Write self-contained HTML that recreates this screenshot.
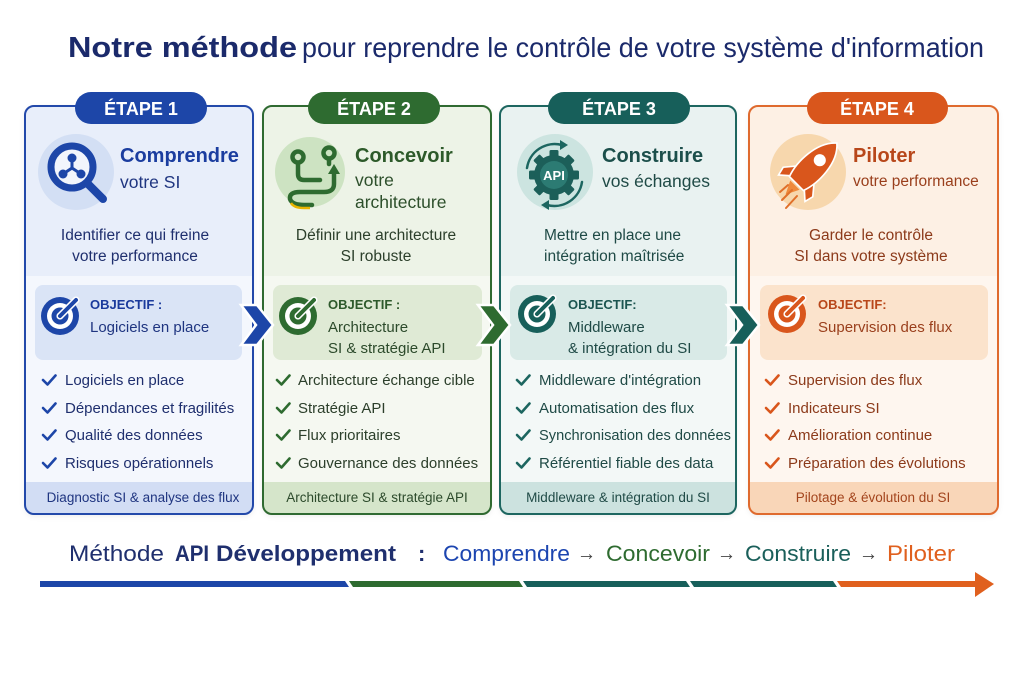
<!DOCTYPE html>
<html><head><meta charset="utf-8"><style>
html,body{margin:0;padding:0;background:#fff;}
svg{display:block;font-family:"Liberation Sans",Arial,sans-serif;}
</style></head><body>
<svg width="1024" height="683" viewBox="0 0 1024 683" xmlns="http://www.w3.org/2000/svg">
<defs>
<clipPath id="k1"><rect x="25" y="106" width="228" height="408" rx="9"/></clipPath>
<clipPath id="k2"><rect x="263" y="106" width="228" height="408" rx="9"/></clipPath>
<clipPath id="k3"><rect x="500" y="106" width="236" height="408" rx="9"/></clipPath>
<clipPath id="k4"><rect x="749" y="106" width="249" height="408" rx="9"/></clipPath>
<filter id="sh" x="-10%" y="-10%" width="120%" height="120%"><feDropShadow dx="0" dy="2" stdDeviation="3" flood-color="#000" flood-opacity="0.08"/></filter>
</defs>

<!-- Title -->
<text x="68" y="57" font-size="29" font-weight="bold" fill="#1b2a6b" textLength="229" lengthAdjust="spacingAndGlyphs">Notre méthode</text>
<text x="302" y="57" font-size="28" fill="#1b2a6b" textLength="682" lengthAdjust="spacingAndGlyphs">pour reprendre le contrôle de votre système d'information</text>

<!-- CARD 1 -->
<rect x="25" y="106" width="228" height="408" rx="9" fill="#f4f7fd" filter="url(#sh)"/>
<g clip-path="url(#k1)">
<rect x="25" y="106" width="228" height="170" fill="#e8eefa"/>
<rect x="25" y="482" width="228" height="32" fill="#d2ddf4"/>
</g>
<rect x="25" y="106" width="228" height="408" rx="9" fill="none" stroke="#2349aa" stroke-width="2"/>
<rect x="35" y="285" width="207" height="75" rx="8" fill="#dae4f6"/>

<!-- CARD 2 -->
<rect x="263" y="106" width="228" height="408" rx="9" fill="#f5f8f1" filter="url(#sh)"/>
<g clip-path="url(#k2)">
<rect x="263" y="106" width="228" height="170" fill="#edf3e7"/>
<rect x="263" y="482" width="228" height="32" fill="#d5e5ca"/>
</g>
<rect x="263" y="106" width="228" height="408" rx="9" fill="none" stroke="#2f6a31" stroke-width="2"/>
<rect x="273" y="285" width="209" height="75" rx="8" fill="#dfead5"/>

<!-- CARD 3 -->
<rect x="500" y="106" width="236" height="408" rx="9" fill="#f3f8f7" filter="url(#sh)"/>
<g clip-path="url(#k3)">
<rect x="500" y="106" width="236" height="170" fill="#e9f2f1"/>
<rect x="500" y="482" width="236" height="32" fill="#cce2df"/>
</g>
<rect x="500" y="106" width="236" height="408" rx="9" fill="none" stroke="#1d6660" stroke-width="2"/>
<rect x="510" y="285" width="217" height="75" rx="8" fill="#d9eae7"/>

<!-- CARD 4 -->
<rect x="749" y="106" width="249" height="408" rx="9" fill="#fef6ef" filter="url(#sh)"/>
<g clip-path="url(#k4)">
<rect x="749" y="106" width="249" height="170" fill="#fdf0e4"/>
<rect x="749" y="482" width="249" height="32" fill="#f9d6b8"/>
</g>
<rect x="749" y="106" width="249" height="408" rx="9" fill="none" stroke="#df6a2e" stroke-width="2"/>
<rect x="760" y="285" width="228" height="75" rx="8" fill="#fbe3cc"/>

<!-- Badges -->
<rect x="75" y="92" width="132" height="32" rx="16" fill="#1d46a8"/>
<text x="141" y="115" font-size="18" font-weight="bold" fill="#fff" text-anchor="middle">ÉTAPE 1</text>
<rect x="308" y="92" width="132" height="32" rx="16" fill="#2e6b30"/>
<text x="374" y="115" font-size="18" font-weight="bold" fill="#fff" text-anchor="middle">ÉTAPE 2</text>
<rect x="548" y="92" width="142" height="32" rx="16" fill="#175f5a"/>
<text x="619" y="115" font-size="18" font-weight="bold" fill="#fff" text-anchor="middle">ÉTAPE 3</text>
<rect x="807" y="92" width="141" height="32" rx="16" fill="#d9561c"/>
<text x="877" y="115" font-size="18" font-weight="bold" fill="#fff" text-anchor="middle">ÉTAPE 4</text>

<!-- Icon 1: magnifier -->
<circle cx="76" cy="172" r="38" fill="#d3dff4"/>
<circle cx="72" cy="167" r="21" fill="#f2f5fc" stroke="#1d46a8" stroke-width="7"/>
<g stroke="#1d46a8" stroke-width="3">
<line x1="72" y1="168" x2="72" y2="159"/><line x1="72" y1="168" x2="63" y2="174"/><line x1="72" y1="168" x2="81" y2="174"/>
</g>
<circle cx="72" cy="158" r="4.5" fill="#1d46a8"/><circle cx="63" cy="174" r="4.5" fill="#1d46a8"/><circle cx="81" cy="174" r="4.5" fill="#1d46a8"/>
<line x1="88" y1="184" x2="103" y2="199" stroke="#1d46a8" stroke-width="8" stroke-linecap="round"/>

<!-- Icon 2: route -->
<circle cx="310" cy="172" r="35" fill="#cde3c2"/>
<g fill="none" stroke="#2e6b30" stroke-width="4.5" stroke-linecap="round" stroke-linejoin="round">
<circle cx="298" cy="157" r="5.5"/>
<circle cx="329" cy="153" r="5.5"/>
<line x1="329" y1="159" x2="329" y2="164"/>
<path d="M298,163 V174 Q298,180 304,180 H320"/>
<path d="M334,172 V184 Q334,192 324,192 H300 Q289,192 290,199 Q292,205 304,205 H312"/>
</g>
<path d="M334,164 L340,174 L328,174 Z" fill="#2e6b30"/>
<path d="M291,203 Q294,208 304,208 H310" fill="none" stroke="#e8b400" stroke-width="2.5"/>

<!-- Icon 3: gear API -->
<circle cx="555" cy="172" r="38" fill="#cce4e0"/>
<g transform="translate(554,175)" fill="#1c5f59">
<rect x="-4.5" y="-25" width="9" height="50" rx="1.5"/>
<rect x="-4.5" y="-25" width="9" height="50" rx="1.5" transform="rotate(45)"/>
<rect x="-4.5" y="-25" width="9" height="50" rx="1.5" transform="rotate(90)"/>
<rect x="-4.5" y="-25" width="9" height="50" rx="1.5" transform="rotate(135)"/>
<circle r="20"/>
<circle r="14" fill="#2c7b73"/>
</g>
<text x="554" y="180" font-size="13" font-weight="bold" fill="#fff" text-anchor="middle">API</text>
<g fill="none" stroke="#1c6660" stroke-width="2.5" stroke-linecap="round">
<path d="M527,168 A28,28 0 0 1 562,145"/>
<path d="M582,182 A28,28 0 0 1 547,205"/>
</g>
<path d="M560,140 L568,145 L560,150 Z" fill="#1c6660"/>
<path d="M549,200 L541,205 L549,210 Z" fill="#1c6660"/>

<!-- Icon 4: rocket -->
<circle cx="808" cy="172" r="38" fill="#f7d7ad"/>
<g transform="translate(812,168) rotate(45) scale(1.1)">
<path d="M-9,6 L-19,18 L-17,26 L-8,18 Z" fill="#d9561c" stroke="#fff" stroke-width="1.5"/>
<path d="M9,6 L19,18 L17,26 L8,18 Z" fill="#d9561c" stroke="#fff" stroke-width="1.5"/>
<path d="M0,-32 C14,-20 14,6 9,20 H-9 C-14,6 -14,-20 0,-32 Z" fill="#d9561c" stroke="#fff" stroke-width="1.5"/>
<circle cx="0" cy="-10" r="5.5" fill="#fff"/>
<path d="M-6,22 L0,34 L6,22 Z" fill="#ef8a3c"/>
</g>
<g stroke="#e0702a" stroke-width="2" stroke-linecap="round">
<line x1="792" y1="190" x2="782" y2="200"/>
<line x1="797" y1="196" x2="786" y2="208"/>
<line x1="788" y1="185" x2="780" y2="192"/>
</g>

<!-- Headings -->
<text x="120" y="162" font-size="20" font-weight="bold" fill="#1b3d9f">Comprendre</text>
<text x="120" y="188" font-size="17.5" fill="#1f3580">votre SI</text>
<text x="355" y="162" font-size="20" font-weight="bold" fill="#2d5a2a">Concevoir</text>
<text x="355" y="186" font-size="17.5" fill="#2d4f2b">votre</text>
<text x="355" y="208" font-size="17.5" fill="#2d4f2b">architecture</text>
<text x="602" y="162" font-size="20" font-weight="bold" fill="#1c4f4b">Construire</text>
<text x="602" y="187" font-size="17.5" fill="#1f4a46">vos échanges</text>
<text x="853" y="162" font-size="20" font-weight="bold" fill="#b8471a">Piloter</text>
<text x="853" y="186" font-size="15.5" fill="#9a3f1c">votre performance</text>

<!-- Descriptions -->
<g font-size="15.5" text-anchor="middle">
<text x="135" y="240" fill="#1f2f6e">Identifier ce qui freine</text>
<text x="135" y="261" fill="#1f2f6e">votre performance</text>
<text x="376" y="240" fill="#2c3f2b">Définir une architecture</text>
<text x="376" y="261" fill="#2c3f2b">SI robuste</text>
<text x="871" y="240" fill="#8c3a1a">Garder le contrôle</text>
<text x="871" y="261" fill="#8c3a1a">SI dans votre système</text>
</g>
<text x="544" y="240" font-size="15.5" fill="#1f4a46">Mettre en place une</text>
<text x="544" y="261" font-size="15.5" fill="#1f4a46">intégration maîtrisée</text>

<!-- Targets -->
<g transform="translate(60,316)">
<circle r="19" fill="#1d46a8"/><circle r="13" fill="#fff"/><circle r="8.5" fill="#1d46a8"/><circle r="3.5" fill="#fff"/>
<line x1="0" y1="0" x2="16" y2="-16" stroke="#fff" stroke-width="7" stroke-linecap="round"/>
<line x1="0" y1="0" x2="16" y2="-16" stroke="#1d46a8" stroke-width="4" stroke-linecap="round"/>
</g>
<g transform="translate(298,316)">
<circle r="19" fill="#2e6b30"/><circle r="13" fill="#fff"/><circle r="8.5" fill="#2e6b30"/><circle r="3.5" fill="#fff"/>
<line x1="0" y1="0" x2="16" y2="-16" stroke="#fff" stroke-width="7" stroke-linecap="round"/>
<line x1="0" y1="0" x2="16" y2="-16" stroke="#2e6b30" stroke-width="4" stroke-linecap="round"/>
</g>
<g transform="translate(537,314)">
<circle r="19" fill="#175f5a"/><circle r="13" fill="#fff"/><circle r="8.5" fill="#175f5a"/><circle r="3.5" fill="#fff"/>
<line x1="0" y1="0" x2="16" y2="-16" stroke="#fff" stroke-width="7" stroke-linecap="round"/>
<line x1="0" y1="0" x2="16" y2="-16" stroke="#175f5a" stroke-width="4" stroke-linecap="round"/>
</g>
<g transform="translate(787,314)">
<circle r="19" fill="#d9561c"/><circle r="13" fill="#fff"/><circle r="8.5" fill="#d9561c"/><circle r="3.5" fill="#fff"/>
<line x1="0" y1="0" x2="16" y2="-16" stroke="#fff" stroke-width="7" stroke-linecap="round"/>
<line x1="0" y1="0" x2="16" y2="-16" stroke="#d9561c" stroke-width="4" stroke-linecap="round"/>
</g>

<!-- Objectif texts -->
<text x="90" y="309" font-size="13" font-weight="bold" fill="#1a3a9c">OBJECTIF :</text>
<text x="90" y="332" font-size="15" fill="#1f3580">Logiciels en place</text>
<text x="328" y="309" font-size="13" font-weight="bold" fill="#2e5a2c">OBJECTIF :</text>
<text x="328" y="332" font-size="15" fill="#2c4a2b">Architecture</text>
<text x="328" y="353" font-size="15" fill="#2c4a2b">SI &amp; stratégie API</text>
<text x="568" y="309" font-size="13" font-weight="bold" fill="#1c5550">OBJECTIF:</text>
<text x="568" y="332" font-size="15" fill="#1f4a46">Middleware</text>
<text x="568" y="353" font-size="15" fill="#1f4a46">&amp; intégration du SI</text>
<text x="818" y="309" font-size="13" font-weight="bold" fill="#b8471a">OBJECTIF:</text>
<text x="818" y="332" font-size="15" fill="#9a3f1c">Supervision des flux</text>

<!-- Checklists -->
<g fill="none" stroke-width="2.6" stroke-linecap="round" stroke-linejoin="round">
<g stroke="#1d46a8">
<path d="M43,380 l4.5,4.5 l8,-9"/><path d="M43,408 l4.5,4.5 l8,-9"/><path d="M43,435 l4.5,4.5 l8,-9"/><path d="M43,463 l4.5,4.5 l8,-9"/>
</g>
<g stroke="#2e6b30">
<path d="M277,380 l4.5,4.5 l8,-9"/><path d="M277,408 l4.5,4.5 l8,-9"/><path d="M277,435 l4.5,4.5 l8,-9"/><path d="M277,463 l4.5,4.5 l8,-9"/>
</g>
<g stroke="#1d6660">
<path d="M517,380 l4.5,4.5 l8,-9"/><path d="M517,408 l4.5,4.5 l8,-9"/><path d="M517,435 l4.5,4.5 l8,-9"/><path d="M517,463 l4.5,4.5 l8,-9"/>
</g>
<g stroke="#d9561c">
<path d="M766,380 l4.5,4.5 l8,-9"/><path d="M766,408 l4.5,4.5 l8,-9"/><path d="M766,435 l4.5,4.5 l8,-9"/><path d="M766,463 l4.5,4.5 l8,-9"/>
</g>
</g>
<g font-size="15">
<g fill="#1f2f6e">
<text x="65" y="385">Logiciels en place</text>
<text x="65" y="413">Dépendances et fragilités</text>
<text x="65" y="440">Qualité des données</text>
<text x="65" y="468">Risques opérationnels</text>
</g>
<g fill="#2c3f2b">
<text x="298" y="385">Architecture échange cible</text>
<text x="298" y="413">Stratégie API</text>
<text x="298" y="440">Flux prioritaires</text>
<text x="298" y="468">Gouvernance des données</text>
</g>
<g fill="#1f4a46">
<text x="539" y="385">Middleware d'intégration</text>
<text x="539" y="413">Automatisation des flux</text>
<text x="539" y="440" textLength="192" lengthAdjust="spacingAndGlyphs">Synchronisation des données</text>
<text x="539" y="468">Référentiel fiable des data</text>
</g>
<g fill="#8c3a1a">
<text x="788" y="385">Supervision des flux</text>
<text x="788" y="413">Indicateurs SI</text>
<text x="788" y="440">Amélioration continue</text>
<text x="788" y="468">Préparation des évolutions</text>
</g>
</g>

<!-- Footers -->
<g font-size="13.5" text-anchor="middle">
<text x="143" y="502" fill="#1f3580">Diagnostic SI &amp; analyse des flux</text>
<text x="377" y="502" fill="#2c4a2b">Architecture SI &amp; stratégie API</text>
<text x="618" y="502" fill="#1f4a46">Middleware &amp; intégration du SI</text>
<text x="873" y="502" fill="#a3441c">Pilotage &amp; évolution du SI</text>
</g>

<!-- Chevrons -->
<polygon points="241,305 257,305 273,325 257,345 241,345 256,325" fill="#1d46a8" stroke="#fff" stroke-width="2.5" stroke-linejoin="miter"/>
<polygon points="478,305 494,305 510,325 494,345 478,345 493,325" fill="#2e6b30" stroke="#fff" stroke-width="2.5"/>
<polygon points="727,305 743,305 759,325 743,345 727,345 742,325" fill="#175f5a" stroke="#fff" stroke-width="2.5"/>

<!-- Bottom line -->
<text x="69" y="561" font-size="22" fill="#1f2f6e" textLength="95" lengthAdjust="spacingAndGlyphs">Méthode</text>
<text x="175" y="561" font-size="22" font-weight="bold" fill="#1f2f6e" textLength="34" lengthAdjust="spacingAndGlyphs">API</text>
<text x="216" y="561" font-size="22" font-weight="bold" fill="#1f2f6e" textLength="180" lengthAdjust="spacingAndGlyphs">Développement</text>
<text x="418" y="561" font-size="22" font-weight="bold" fill="#1f2f6e">:</text>
<text x="443" y="561" font-size="22" fill="#1c45b0" textLength="127" lengthAdjust="spacingAndGlyphs">Comprendre</text>
<text x="577" y="560" font-size="20" fill="#444" textLength="19" lengthAdjust="spacingAndGlyphs">→</text>
<text x="606" y="561" font-size="22" fill="#2e6b30" textLength="104" lengthAdjust="spacingAndGlyphs">Concevoir</text>
<text x="717" y="560" font-size="20" fill="#444" textLength="19" lengthAdjust="spacingAndGlyphs">→</text>
<text x="745" y="561" font-size="22" fill="#1a5f5a" textLength="106" lengthAdjust="spacingAndGlyphs">Construire</text>
<text x="859" y="560" font-size="20" fill="#444" textLength="19" lengthAdjust="spacingAndGlyphs">→</text>
<text x="887" y="561" font-size="22" fill="#e0601e" textLength="68" lengthAdjust="spacingAndGlyphs">Piloter</text>

<polygon points="40,581 345,581 349,587 40,587" fill="#1d46a8"/>
<polygon points="349,581 519,581 523,587 353,587" fill="#2e6b30"/>
<polygon points="523,581 686,581 690,587 527,587" fill="#175f5a"/>
<polygon points="690,581 833,581 837,587 694,587" fill="#175f5a"/>
<polygon points="837,581 977,581 977,587 841,587" fill="#e0601e"/>
<polygon points="975,572 994,584 975,597" fill="#e0601e"/>
</svg>
</body></html>
